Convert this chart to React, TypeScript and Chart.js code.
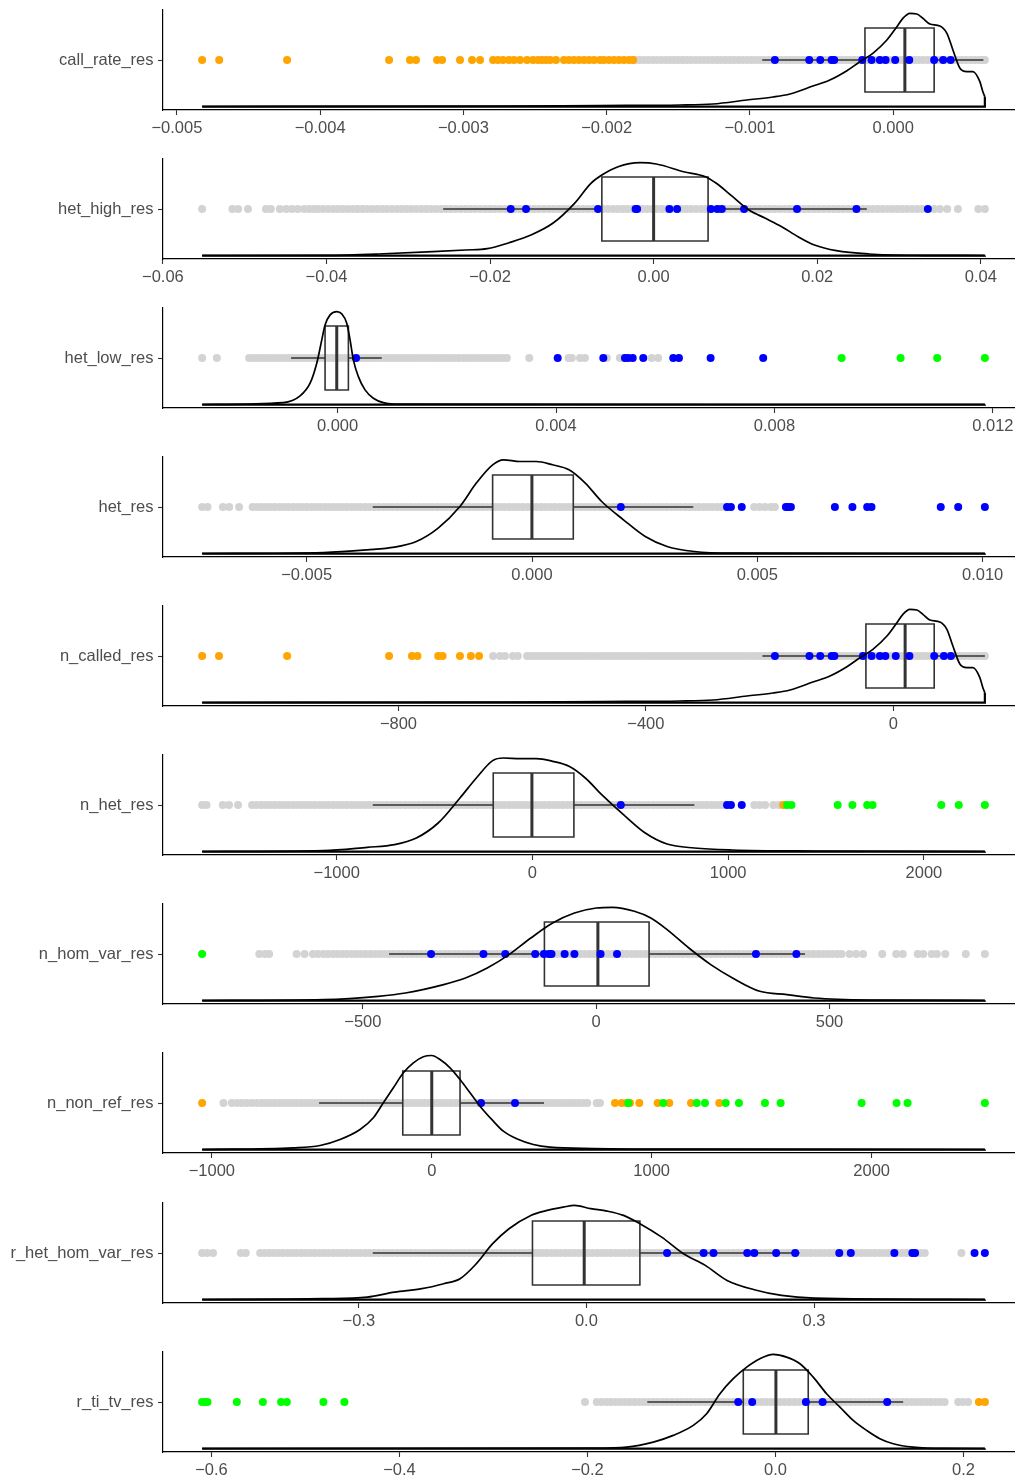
import React, { useEffect, useRef } from "react";
import { Chart, registerables } from "chart.js";

Chart.register(...registerables);

// ---------------- call_rate_res ----------------
const callRateTicks = [-0.005, -0.004, -0.003, -0.002, -0.001, 0];
const callRateTickLabels = ["\u22120.005", "\u22120.004", "\u22120.003", "\u22120.002", "\u22120.001", "0.000"];
const callRateOrange = [-0.004824, -0.004705, -0.004231, -0.003519, -0.003373, -0.003331, -0.003184, -0.003149, -0.003024, -0.00294, -0.002884, -0.002793, -0.002759, -0.002724, -0.002682, -0.002647, -0.002605, -0.002556, -0.002514, -0.002479, -0.002451, -0.002423, -0.002395, -0.002354, -0.002298, -0.002263, -0.002228, -0.002193, -0.002158, -0.002123, -0.002088, -0.002047, -0.002019, -0.001984, -0.001949, -0.001914, -0.001879, -0.001844, -0.001816];
const callRateBlue = [-0.000826, -0.000586, -0.000509, -0.00043, -0.000412, -0.000216, -0.000151, -0.000093, -0.000053, 0.000014, 0.000112, 0.000286, 0.000349, 0.000401];
const callRateGreen: number[] = [];
const callRateGray = [-0.0018, -0.00177, -0.00174, -0.00171, -0.00168, -0.00165, -0.00162, -0.00159, -0.00156, -0.00153, -0.0015, -0.00147, -0.00144, -0.00141, -0.00138, -0.00135, -0.00132, -0.00129, -0.00126, -0.00123, -0.0012, -0.00117, -0.00114, -0.00111, -0.00108, -0.00105, -0.00102, -0.00099, -0.00096, -0.00093, -0.0009, -0.00087, -0.00084, -0.00081, -0.00078, -0.00075, -0.00072, -0.00069, -0.00066, -0.00063, -0.0006, -0.00057, -0.00054, -0.00051, -0.00048, -0.00045, -0.00042, -0.00039, -0.00036, -0.00033, -0.0003, -0.00027, -0.00024, -0.00021, -0.00018, -0.00015, -0.00012, -0.00009, -0.00006, -0.00003, 0, 0.00003, 0.00006, 0.00009, 0.00012, 0.00015, 0.00018, 0.00021, 0.00024, 0.00027, 0.0003, 0.00033, 0.00036, 0.00039, 0.00042, 0.00045, 0.00048, 0.00051, 0.00054, 0.00057, 0.0006, 0.00062, 0.00064];
const callRateBox = [-0.000914, -0.000197, 0.0000816, 0.000286, 0.00063];
const callRateDensX = [-0.004824, -0.002745, -0.002047, -0.001488, -0.001258, -0.001021, -0.000839, -0.000721, -0.00056, -0.000442, -0.000323, -0.000232, -0.000142, -0.000044, 0.0000258, 0.0000677, 0.000117, 0.000165, 0.000207, 0.000256, 0.000326, 0.000375, 0.000417, 0.000465, 0.000514, 0.000556, 0.000605, 0.000626, 0.00064];
const callRateDensY = [3.5, 3.8, 4.5, 5, 6, 10, 13, 16, 24, 30, 39.3, 48.3, 56.7, 70, 83.3, 91.7, 96.7, 96, 91.7, 86, 84, 76.7, 60, 42, 38.3, 38.3, 28.3, 18.3, 13.3];

// ---------------- het_high_res ----------------
const hetHighTicks = [-0.06, -0.04, -0.02, 0, 0.02, 0.04];
const hetHighTickLabels = ["\u22120.06", "\u22120.04", "\u22120.02", "0.00", "0.02", "0.04"];
const hetHighOrange: number[] = [];
const hetHighBlue = [-0.01747, -0.0156, -0.0068, -0.0022, -0.00202, 0.00193, 0.00287, 0.00699, 0.0078, 0.00834, 0.01106, 0.01753, 0.0248, 0.03353];
const hetHighGreen: number[] = [];
const hetHighGray = [-0.0552, -0.0515, -0.0508, -0.0496, -0.0474, -0.0468, -0.0457, -0.0449, -0.0442, -0.0435, -0.0427, -0.0421, -0.0415,
  -0.041, -0.0404, -0.0398, -0.0392, -0.0386, -0.038, -0.0374, -0.0368, -0.0362, -0.0356, -0.035, -0.0344, -0.0338, -0.0332, -0.0326, -0.032, -0.0314, -0.0308, -0.0302, -0.0296, -0.029, -0.0284, -0.0278, -0.0272, -0.0266, -0.026, -0.0254, -0.0248, -0.0242, -0.0236, -0.023, -0.0224, -0.0218, -0.0212, -0.0206, -0.02, -0.0194, -0.0188, -0.0182, -0.0176, -0.017, -0.0164, -0.0158, -0.0152, -0.0146, -0.014, -0.0134, -0.0128, -0.0122, -0.0116, -0.011, -0.0104, -0.0098, -0.0092, -0.0086, -0.008, -0.0074, -0.0068, -0.0062, -0.0056, -0.005, -0.0044, -0.0038, -0.0032, -0.0026, -0.002, -0.0014, -0.0008, -0.0002, 0.0004, 0.001, 0.0016, 0.0022, 0.0028, 0.0034, 0.004, 0.0046, 0.0052, 0.0058, 0.0064, 0.007, 0.0076, 0.0082, 0.0088, 0.0094, 0.01, 0.0106, 0.0112, 0.0118, 0.0124, 0.013, 0.0136, 0.0142, 0.0148, 0.0154, 0.016, 0.0166, 0.0172, 0.0178, 0.0184, 0.019, 0.0196, 0.0202, 0.0208, 0.0214, 0.022, 0.0226, 0.0232, 0.0238, 0.0244, 0.025, 0.0256, 0.0262, 0.0268, 0.0274, 0.028, 0.0286, 0.0292, 0.0298, 0.0304, 0.031, 0.0316, 0.0322, 0.0328,
  0.0343, 0.035, 0.0359, 0.0372, 0.0397, 0.0405];
const hetHighBox = [-0.02573, -0.00633, 0, 0.00666, 0.02606];
const hetHighDensX = [-0.0552, -0.04033, -0.03367, -0.02699, -0.023, -0.02033, -0.01767, -0.015, -0.01233, -0.00967, -0.00767, -0.00633, -0.00434, -0.00166, 0.00033, 0.00367, 0.00633, 0.00767, 0.00967, 0.01166, 0.01367, 0.01566, 0.01767, 0.01967, 0.02234, 0.02633, 0.033, 0.0405];
const hetHighDensY = [3.5, 3.7, 5, 7.3, 9, 10.3, 16.3, 24, 35.7, 55.7, 75.7, 84, 92.3, 96.3, 95, 87.3, 82.3, 75.7, 62.3, 49, 40.7, 32.3, 22.3, 14, 8.3, 5, 3.7, 3.5];

// ---------------- het_low_res ----------------
const hetLowTicks = [0, 0.004, 0.008, 0.012];
const hetLowTickLabels = ["0.000", "0.004", "0.008", "0.012"];
const hetLowOrange: number[] = [];
const hetLowBlue = [0.000339, 0.004031, 0.004866, 0.005263, 0.005323, 0.005404, 0.005598, 0.006147, 0.006251, 0.006831, 0.007794];
const hetLowGreen = [0.00923, 0.01031, 0.01098, 0.011853];
const hetLowGray = [-0.00248, -0.00221,
  -0.00162, -0.00154, -0.00146, -0.00138, -0.0013, -0.00122, -0.00114, -0.00106, -0.00098, -0.0009, -0.00082, -0.00074, -0.00066, -0.00058, -0.0005, -0.00042, -0.00034, -0.00026, -0.00018, -0.0001, -0.00002, 0.00006, 0.00014, 0.00022, 0.0003, 0.00038, 0.00046, 0.00054, 0.00062, 0.0007, 0.00078, 0.00086, 0.00094, 0.00102, 0.0011, 0.00118, 0.00126, 0.00134, 0.00142, 0.0015, 0.00158, 0.00166, 0.00174, 0.00182, 0.0019, 0.00198, 0.00206, 0.00214, 0.00222, 0.0023, 0.00238, 0.00246, 0.00254, 0.00262, 0.0027, 0.00278, 0.00286, 0.00294, 0.00302, 0.0031,
  0.00351, 0.00423, 0.00429, 0.00444, 0.00453, 0.00493, 0.00517, 0.00523, 0.00575, 0.00587];
const hetLowBox = [-0.000851, -0.000229, -0.000015, 0.000198, 0.000809];
const hetLowDensX = [-0.00248, -0.000992, -0.000686, -0.000503, -0.000381, -0.000289, -0.000229, -0.000137, -0.000015, 0.000077, 0.000168, 0.000229, 0.000289, 0.000381, 0.000503, 0.000655, 0.000838, 0.001144, 0.011853];
const hetLowDensY = [3.5, 5.4, 12.1, 24.8, 44.8, 68.1, 83.1, 93.1, 96.4, 94.1, 84.8, 68.1, 48.1, 31.4, 18.1, 9.8, 5.4, 3.8, 3.5];

// ---------------- het_res ----------------
const hetTicks = [-0.005, 0, 0.005, 0.01];
const hetTickLabels = ["\u22120.005", "0.000", "0.005", "0.010"];
const hetOrange: number[] = [];
const hetBlue = [0.00197, 0.004328, 0.004414, 0.004654, 0.005634, 0.005679, 0.005745, 0.006721, 0.00711, 0.007438, 0.007533, 0.00907, 0.009457, 0.010049];
const hetGreen: number[] = [];
const hetGray = [-0.00732, -0.0072, -0.00686, -0.00672, -0.0065,
  -0.0062, -0.0061, -0.006, -0.0059, -0.0058, -0.0057, -0.0056, -0.0055, -0.0054, -0.0053, -0.0052, -0.0051, -0.005, -0.0049, -0.0048, -0.0047, -0.0046, -0.0045, -0.0044, -0.0043, -0.0042, -0.0041, -0.004, -0.0039, -0.0038, -0.0037, -0.0036, -0.0035, -0.0034, -0.0033, -0.0032, -0.0031, -0.003, -0.0029, -0.0028, -0.0027, -0.0026, -0.0025, -0.0024, -0.0023, -0.0022, -0.0021, -0.002, -0.0019, -0.0018, -0.0017, -0.0016, -0.0015, -0.0014, -0.0013, -0.0012, -0.0011, -0.001, -0.0009, -0.0008, -0.0007, -0.0006, -0.0005, -0.0004, -0.0003, -0.0002, -0.0001, 0, 0.0001, 0.0002, 0.0003, 0.0004, 0.0005, 0.0006, 0.0007, 0.0008, 0.0009, 0.001, 0.0011, 0.0012, 0.0013, 0.0014, 0.0015, 0.0016, 0.0017, 0.0018, 0.0019, 0.002, 0.0021, 0.0022, 0.0023, 0.0024, 0.0025, 0.0026, 0.0027, 0.0028, 0.0029, 0.003, 0.0031, 0.0032, 0.0033, 0.0034, 0.0035, 0.0036, 0.0037, 0.0038, 0.0039, 0.004, 0.0041, 0.0042, 0.0043,
  0.00493, 0.00505, 0.00517, 0.0053, 0.00539];
const hetBox = [-0.003534, -0.000874, -0.000002, 0.000916, 0.003578];
const hetDensX = [-0.00732, -0.004623, -0.003656, -0.00305, -0.002567, -0.002083, -0.001599, -0.001236, -0.000874, -0.000632, -0.000268, 0.000095, 0.000457, 0.000821, 0.001182, 0.001546, 0.00203, 0.002513, 0.002997, 0.003602, 0.00445, 0.010049];
const hetDensY = [3.5, 4.5, 7.2, 9.9, 15.5, 28.9, 50.5, 73.9, 92.2, 97.2, 95.5, 95.5, 92.2, 87.2, 73.9, 55.5, 37.2, 20.5, 10.5, 5.5, 3.9, 3.5];

// ---------------- n_called_res ----------------
const nCalledTicks = [-800, -400, 0];
const nCalledTickLabels = ["\u2212800", "\u2212400", "0"];
const nCalledOrange = [-1117.4, -1090.1, -980, -815.2, -778.2, -769.3, -735.8, -728.7, -700.6, -683, -669.7];
const nCalledBlue = [-191.4, -135.6, -118.1, -99.7, -95.2, -49.1, -35.1, -21.7, -12.8, 3.9, 26, 66.1, 81.8, 93.1];
const nCalledGreen: number[] = [];
const nCalledGray = [-647, -636, -628, -615, -607,
  -592, -585, -578, -571, -564, -557, -550, -543, -536, -529, -522, -515, -508, -501, -494, -487, -480, -473, -466, -459, -452, -445, -438, -431, -424, -417, -410, -403, -396, -389, -382, -375, -368, -361, -354, -347, -340, -333, -326, -319, -312, -305, -298, -291, -284, -277, -270, -263, -256, -249, -242, -235, -228, -221, -214, -207, -200, -193, -186, -179, -172, -165, -158, -151, -144, -137, -130, -123, -116, -109, -102, -95, -88, -81, -74, -67, -60, -53, -46, -39, -32, -25, -18, -11, -4, 3, 10, 17, 24, 31, 38, 45, 52, 59, 66, 73, 80, 87, 94, 101, 108, 115, 122, 129, 136, 143, 148];
const nCalledBox = [-211.6, -44.3, 19.1, 66.1, 148];
const nCalledDensX = [-1117.4, -635.7, -474.1, -344.9, -291.5, -236.6, -194.6, -167.1, -129.9, -102.5, -75, -54, -33, -10.3, 5.8, 15.5, 26.8, 38.1, 47.8, 59.1, 75.3, 86.6, 96.3, 107.6, 118.9, 128.6, 139.9, 144.8, 148];
const nCalledDensY = [3.5, 3.8, 4.5, 5, 6, 10, 13, 16, 24, 30, 39.3, 48.3, 56.7, 70, 83.3, 91.7, 96.7, 96, 91.7, 86, 84, 76.7, 60, 42, 38.3, 38.3, 28.3, 18.3, 13.3];

// ---------------- n_het_res ----------------
const nHetTicks = [-1000, 0, 1000, 2000];
const nHetTickLabels = ["\u22121000", "0", "1000", "2000"];
const nHetOrange = [1281.4];
const nHetBlue = [451.5, 994.3, 1014.3, 1069.4];
const nHetGreen = [1300.8, 1323.3, 1559.7, 1634.8, 1710.4, 1737.9, 2088.8, 2178.1, 2311.5];
const nHetGray = [-1687.4, -1665, -1582, -1550, -1504,
  -1432, -1409, -1386, -1363, -1340, -1317, -1294, -1271, -1248, -1225, -1202, -1179, -1156, -1133, -1110, -1087, -1064, -1041, -1018, -995, -972, -949, -926, -903, -880, -857, -834, -811, -788, -765, -742, -719, -696, -673, -650, -627, -604, -581, -558, -535, -512, -489, -466, -443, -420, -397, -374, -351, -328, -305, -282, -259, -236, -213, -190, -167, -144, -121, -98, -75, -52, -29, -6, 17, 40, 63, 86, 109, 132, 155, 178, 201, 224, 247, 270, 293, 316, 339, 362, 385, 408, 431, 454, 477, 500, 523, 546, 569, 592, 615, 638, 661, 684, 707, 730, 753, 776, 799, 822, 845, 868, 891, 914, 937, 960, 978,
  1134, 1161, 1189, 1231, 1259];
const nHetBox = [-815.6, -200.2, -2.6, 211.9, 827.3];
const nHetDensX = [-1687.4, -1066.3, -843.7, -704.3, -592.9, -481.6, -370.3, -286.5, -203.3, -147.6, -63.8, 19.9, 103.2, 186.9, 270.2, 353.9, 465.2, 576.6, 687.9, 827.3, 1022.4, 1440.2, 2311.5];
const nHetDensY = [3.5, 4.35, 7.7, 10.35, 17, 32, 57, 77, 94.4, 97, 96.4, 96.4, 93.7, 88.7, 77, 60.4, 40.4, 22, 11, 7, 5, 4, 3.5];

// ---------------- n_hom_var_res ----------------
const nHomVarTicks = [-500, 0, 500];
const nHomVarTickLabels = ["\u2212500", "0", "500"];
const nHomVarOrange: number[] = [];
const nHomVarBlue = [-353.9, -241.6, -194.9, -130.7, -112, -101.5, -95.8, -67.7, -46.7, 9.4, 44.6, 342.3, 428.9];
const nHomVarGreen = [-844.5];
const nHomVarGray = [-722, -710, -701, -642, -625, -607, -596,
  -584, -574, -564, -554, -544, -534, -524, -514, -504, -494, -484, -474, -464, -454, -444, -434, -424, -414, -404, -394, -384, -374, -364, -354, -344, -334, -324, -314, -304, -294, -284, -274, -264, -254, -244, -234, -224, -214, -204, -194, -184, -174, -164, -154, -144, -134, -124, -114, -104, -94, -84, -74, -64, -54, -44, -34, -24, -14, -4, 6, 16, 26, 36, 46, 56, 66, 76, 86, 96, 106, 116, 126, 136, 146, 156, 166, 176, 186, 196, 206, 216, 226, 236, 246, 256, 266, 276, 286, 296, 306, 316, 326, 336, 346, 356, 366, 376, 386, 396, 406, 416, 426, 436, 446, 456, 466, 476, 486, 496, 506, 516, 526,
  543, 557, 572, 613, 643, 657, 689, 701, 719, 730, 748, 792, 832.9];
const nHomVarBox = [-443.9, -111, 3.6, 113.3, 447.5];
const nHomVarDensX = [-844.5, -584, -467.2, -408.7, -326.9, -280.2, -233.5, -186.8, -140.1, -93.4, -46.7, 0, 35.1, 81.8, 117, 151.9, 198.6, 245.5, 292.2, 350.5, 408.9, 467.4, 584.2, 832.9];
const nHomVarDensY = [3.5, 4.4, 7.7, 11, 19.4, 26, 36, 49.4, 66, 81, 91, 96, 96.7, 92.7, 86, 74.4, 56, 39.4, 26, 12.7, 9.4, 6, 4, 3.5];

// ---------------- n_non_ref_res ----------------
const nNonRefTicks = [-1000, 0, 1000, 2000];
const nNonRefTickLabels = ["\u22121000", "0", "1000", "2000"];
const nNonRefOrange = [-1044, 833.2, 863.6, 886.4, 901.4, 943.6, 1027.3, 1080, 1178.6, 1307.2];
const nNonRefBlue = [224.1, 378.6];
const nNonRefGreen = [893.6, 1052.6, 1204.5, 1242.2, 1336.3, 1396.7, 1514.9, 1586.2, 1954.4, 2113.4, 2163.4, 2514.8];
const nNonRefGray = [-947, -909, -886, -864, -841, -818, -795, -773,
  -753, -733, -713, -693, -673, -653, -633, -613, -593, -573, -553, -533, -513, -493, -473, -453, -433, -413, -393, -373, -353, -333, -313, -293, -273, -253, -233, -213, -193, -173, -153, -133, -113, -93, -73, -53, -33, -13, 7, 27, 47, 67, 87, 107, 127, 147, 167, 187, 207, 227, 247, 267, 287, 307, 327, 347, 367, 387, 407, 427, 447, 467, 487, 507, 527, 547, 567, 587, 607, 627, 647, 667, 687, 707,
  750, 765];
const nNonRefBox = [-512.2, -131.8, 0, 128.6, 510.4];
const nNonRefDensX = [-1044, -629, -507.7, -416.8, -325.9, -265.4, -220, -174.5, -129.1, -83.6, -38.2, 0, 37.7, 83.2, 128.6, 174.1, 219.5, 280, 325.4, 386.3, 461.8, 537.7, 734.5, 1219.4, 2514.8];
const nNonRefDensY = [3.5, 5.2, 7.5, 13.5, 23.5, 35.2, 50.2, 65.2, 80.2, 90.2, 96.3, 97.5, 93.5, 85.2, 73.5, 60.2, 46.8, 31.8, 21.8, 14.2, 8.5, 5.8, 4.5, 3.8, 3.5];

// ---------------- r_het_hom_var_res ----------------
const rHetHomTicks = [-0.3, 0, 0.3];
const rHetHomTickLabels = ["\u22120.3", "0.0", "0.3"];
const rHetHomOrange: number[] = [];
const rHetHomBlue = [0.1063, 0.1545, 0.1675, 0.212, 0.2213, 0.2501, 0.2752, 0.3333, 0.3485, 0.4059, 0.4296, 0.4332, 0.5116, 0.5252];
const rHetHomGreen: number[] = [];
const rHetHomGray = [-0.5065, -0.4999, -0.4921, -0.4555, -0.449,
  -0.43, -0.424, -0.418, -0.412, -0.406, -0.4, -0.394, -0.388, -0.382, -0.376, -0.37, -0.364, -0.358, -0.352, -0.346, -0.34, -0.334, -0.328, -0.322, -0.316, -0.31, -0.304, -0.298, -0.292, -0.286, -0.28, -0.274, -0.268, -0.262, -0.256, -0.25, -0.244, -0.238, -0.232, -0.226, -0.22, -0.214, -0.208, -0.202, -0.196, -0.19, -0.184, -0.178, -0.172, -0.166, -0.16, -0.154, -0.148, -0.142, -0.136, -0.13, -0.124, -0.118, -0.112, -0.106, -0.1, -0.094, -0.088, -0.082, -0.076, -0.07, -0.064, -0.058, -0.052, -0.046, -0.04, -0.034, -0.028, -0.022, -0.016, -0.01, -0.004, 0.002, 0.008, 0.014, 0.02, 0.026, 0.032, 0.038, 0.044, 0.05, 0.056, 0.062, 0.068, 0.074, 0.08, 0.086, 0.092, 0.098, 0.104, 0.11, 0.116, 0.122, 0.128, 0.134, 0.14, 0.146, 0.152, 0.158, 0.164, 0.17, 0.176, 0.182, 0.188, 0.194, 0.2, 0.206, 0.212, 0.218, 0.224, 0.23, 0.236, 0.242, 0.248, 0.254, 0.26, 0.266, 0.272, 0.278, 0.284, 0.29, 0.296, 0.302, 0.308, 0.314, 0.32, 0.326, 0.332, 0.338, 0.344, 0.35, 0.356, 0.362, 0.368, 0.374, 0.38, 0.386, 0.392, 0.398, 0.404, 0.41, 0.416, 0.422, 0.428, 0.434, 0.44, 0.446,
  0.4943];
const rHetHomBox = [-0.2816, -0.0711, -0.0029, 0.0705, 0.281];
const rHetHomDensX = [-0.5065, -0.3462, -0.2888, -0.2528, -0.217, -0.1881, -0.1665, -0.1451, -0.1236, -0.102, -0.0733, -0.0516, -0.0302, -0.0158, 0.0058, 0.0273, 0.0489, 0.0705, 0.0992, 0.1279, 0.1567, 0.1854, 0.2213, 0.2572, 0.3004, 0.5252];
const rHetHomDensY = [3.5, 4.3, 5.9, 10.9, 14.3, 19.3, 24.3, 39.3, 59.3, 74.3, 87.6, 92.6, 95.9, 97.6, 94.3, 91.9, 87.6, 79.3, 65.9, 49.3, 37.6, 22.6, 13.3, 7.6, 4.9, 3.5];

// ---------------- r_ti_tv_res ----------------
const rTiTvTicks = [-0.6, -0.4, -0.2, 0, 0.2];
const rTiTvTickLabels = ["\u22120.6", "\u22120.4", "\u22120.2", "0.0", "0.2"];
const rTiTvOrange = [0.2164, 0.2228];
const rTiTvBlue = [-0.0396, -0.0247, 0.0324, 0.0502, 0.1189];
const rTiTvGreen = [-0.6099, -0.6067, -0.6042, -0.573, -0.5453, -0.5259, -0.5198, -0.4809, -0.4585];
const rTiTvGray = [-0.2026, -0.1901, -0.1848, -0.1795,
  -0.175, -0.17, -0.165, -0.16, -0.155, -0.15, -0.145, -0.14, -0.135, -0.13, -0.125, -0.12, -0.115, -0.11, -0.105, -0.1, -0.095, -0.09, -0.085, -0.08, -0.075, -0.07, -0.065, -0.06, -0.055, -0.05, -0.045, -0.04, -0.035, -0.03, -0.025, -0.02, -0.015, -0.01, -0.005, 0, 0.005, 0.01, 0.015, 0.02, 0.025, 0.03, 0.035, 0.04, 0.045, 0.05, 0.055, 0.06, 0.065, 0.07, 0.075, 0.08, 0.085, 0.09, 0.095, 0.1, 0.105, 0.11, 0.115, 0.12, 0.125, 0.13, 0.135, 0.14, 0.145, 0.15, 0.155, 0.16, 0.165, 0.17, 0.175, 0.18,
  0.1944, 0.1997, 0.205];
const rTiTvBox = [-0.1363, -0.0342, 0.0005, 0.0349, 0.1359];
const rTiTvDensX = [-0.6099, -0.1938, -0.1582, -0.1299, -0.1087, -0.0874, -0.0732, -0.059, -0.0449, -0.0306, -0.0165, -0.0023, 0.0119, 0.0261, 0.0402, 0.0544, 0.0686, 0.0827, 0.097, 0.1111, 0.1253, 0.1465, 0.1784, 0.2228];
const rTiTvDensY = [3.5, 3.9, 4.9, 9.9, 16.6, 26.6, 38.3, 58.3, 73.3, 84.9, 93.3, 97.6, 94.9, 88.3, 74.9, 58.3, 44.9, 31.6, 21.6, 13.3, 8.3, 4.9, 3.6, 3.5];

type Panel = {
  name: string;
  ticks: number[];
  tickLabels: string[];
  gray: number[];
  blue: number[];
  orange: number[];
  green: number[];
  box: number[]; // whisker low, q1, median, q3, whisker high
  densX: number[];
  densY: number[];
};

const PANELS: Panel[] = [
  { name: "call_rate_res", ticks: callRateTicks, tickLabels: callRateTickLabels, gray: callRateGray, blue: callRateBlue, orange: callRateOrange, green: callRateGreen, box: callRateBox, densX: callRateDensX, densY: callRateDensY },
  { name: "het_high_res", ticks: hetHighTicks, tickLabels: hetHighTickLabels, gray: hetHighGray, blue: hetHighBlue, orange: hetHighOrange, green: hetHighGreen, box: hetHighBox, densX: hetHighDensX, densY: hetHighDensY },
  { name: "het_low_res", ticks: hetLowTicks, tickLabels: hetLowTickLabels, gray: hetLowGray, blue: hetLowBlue, orange: hetLowOrange, green: hetLowGreen, box: hetLowBox, densX: hetLowDensX, densY: hetLowDensY },
  { name: "het_res", ticks: hetTicks, tickLabels: hetTickLabels, gray: hetGray, blue: hetBlue, orange: hetOrange, green: hetGreen, box: hetBox, densX: hetDensX, densY: hetDensY },
  { name: "n_called_res", ticks: nCalledTicks, tickLabels: nCalledTickLabels, gray: nCalledGray, blue: nCalledBlue, orange: nCalledOrange, green: nCalledGreen, box: nCalledBox, densX: nCalledDensX, densY: nCalledDensY },
  { name: "n_het_res", ticks: nHetTicks, tickLabels: nHetTickLabels, gray: nHetGray, blue: nHetBlue, orange: nHetOrange, green: nHetGreen, box: nHetBox, densX: nHetDensX, densY: nHetDensY },
  { name: "n_hom_var_res", ticks: nHomVarTicks, tickLabels: nHomVarTickLabels, gray: nHomVarGray, blue: nHomVarBlue, orange: nHomVarOrange, green: nHomVarGreen, box: nHomVarBox, densX: nHomVarDensX, densY: nHomVarDensY },
  { name: "n_non_ref_res", ticks: nNonRefTicks, tickLabels: nNonRefTickLabels, gray: nNonRefGray, blue: nNonRefBlue, orange: nNonRefOrange, green: nNonRefGreen, box: nNonRefBox, densX: nNonRefDensX, densY: nNonRefDensY },
  { name: "r_het_hom_var_res", ticks: rHetHomTicks, tickLabels: rHetHomTickLabels, gray: rHetHomGray, blue: rHetHomBlue, orange: rHetHomOrange, green: rHetHomGreen, box: rHetHomBox, densX: rHetHomDensX, densY: rHetHomDensY },
  { name: "r_ti_tv_res", ticks: rTiTvTicks, tickLabels: rTiTvTickLabels, gray: rTiTvGray, blue: rTiTvBlue, orange: rTiTvOrange, green: rTiTvGreen, box: rTiTvBox, densX: rTiTvDensX, densY: rTiTvDensY },
];

// layout / style constants
const FONT = "'Liberation Sans', Arial, Helvetica, sans-serif";
const FONT_SIZE = 16.5;
const ROW = 50;
const BOX_LO = 18;
const BOX_HI = 82;
const BASE = 3.3;
const PT_R = 4;
const CANVAS_W = 1024;
const CANVAS_H = 149;
const PANEL_TOPS = [0, 149, 298, 447, 596, 745, 894, 1043, 1193, 1342];
const COLORS = { gray: "#d3d3d3", blue: "#0000ff", orange: "#ffa500", green: "#00ff00", box: "#333333", text: "#4d4d4d" };

function buildChart(canvas: HTMLCanvasElement, p: Panel) {
  const all = [...p.gray, ...p.blue, ...p.orange, ...p.green];
  const lo = Math.min(...all);
  const hi = Math.max(...all);
  const pad = (hi - lo) * 0.05;
  const [wlo, q1, med, q3, whi] = p.box;

  const lineDs = (data: any[], width: number, color: string, order: number, extra: any = {}) => ({
    type: "line",
    data,
    borderColor: color,
    borderWidth: width,
    pointRadius: 0,
    pointHoverRadius: 0,
    fill: false,
    tension: 0,
    borderJoinStyle: "miter",
    order,
    ...extra,
  });
  const ptDs = (arr: number[], color: string, order: number) => ({
    type: "line",
    data: arr.map((x) => ({ x, y: ROW })),
    showLine: false,
    pointRadius: PT_R,
    pointHoverRadius: PT_R,
    pointBackgroundColor: color,
    pointBorderWidth: 0,
    borderColor: color,
    backgroundColor: color,
    order,
  });

  const dens = p.densX.map((x, i) => ({ x, y: p.densY[i] }));
  const n = p.densX.length;

  const datasets: any[] = [
    lineDs(dens, 1.7, "#000000", 0, { cubicInterpolationMode: "monotone" }),
    lineDs(
      [
        { x: p.densX[n - 1], y: p.densY[n - 1] },
        { x: p.densX[n - 1], y: BASE },
        { x: p.densX[0], y: BASE },
      ],
      2.2,
      "#000000",
      0
    ),
    ptDs(p.green, COLORS.green, 1),
    ptDs(p.blue, COLORS.blue, 2),
    ptDs(p.orange, COLORS.orange, 3),
    lineDs(
      [
        { x: q1, y: BOX_LO },
        { x: q3, y: BOX_LO },
        { x: q3, y: BOX_HI },
        { x: q1, y: BOX_HI },
        { x: q1, y: BOX_LO },
      ],
      1.6,
      COLORS.box,
      4,
      { borderCapStyle: "square" }
    ),
    lineDs([{ x: med, y: BOX_LO }, { x: med, y: BOX_HI }], 3, COLORS.box, 4),
    lineDs([{ x: wlo, y: ROW }, { x: q1, y: ROW }], 1.6, COLORS.box, 4),
    lineDs([{ x: q3, y: ROW }, { x: whi, y: ROW }], 1.6, COLORS.box, 4),
    ptDs(p.gray, COLORS.gray, 5),
  ];

  const font = { family: FONT, size: FONT_SIZE };

  return new Chart(canvas, {
    type: "line",
    data: { datasets },
    options: {
      animation: false,
      responsive: false,
      maintainAspectRatio: false,
      devicePixelRatio: 1,
      events: [],
      layout: { autoPadding: false, padding: { top: 10, left: 0, right: 0, bottom: 0 } },
      plugins: { legend: { display: false }, tooltip: { enabled: false } },
      scales: {
        x: {
          type: "linear",
          min: lo - pad,
          max: hi + pad,
          afterBuildTicks: (axis: any) => {
            axis.ticks = p.ticks.map((v) => ({ value: v }));
          },
          afterFit: (axis: any) => {
            axis.height = 39;
            axis.paddingLeft = 0;
            axis.paddingRight = 0;
          },
          ticks: {
            autoSkip: false,
            maxRotation: 0,
            minRotation: 0,
            padding: 4,
            color: COLORS.text,
            font,
            callback: (v: any) => {
              const i = p.ticks.indexOf(Number(v));
              return i >= 0 ? p.tickLabels[i] : "";
            },
          },
          grid: { display: true, drawOnChartArea: false, drawTicks: true, tickLength: 5, tickColor: "#333333", tickWidth: 1.1 },
          border: { display: true, color: "#000000", width: 1.2 },
        },
        y: {
          type: "linear",
          min: 0,
          max: 100,
          afterBuildTicks: (axis: any) => {
            axis.ticks = [{ value: ROW }];
          },
          afterFit: (axis: any) => {
            axis.width = 163;
            axis.paddingTop = 0;
            axis.paddingBottom = 0;
          },
          ticks: {
            padding: 4.5,
            color: COLORS.text,
            font,
            callback: () => p.name,
          },
          grid: { display: true, drawOnChartArea: false, drawTicks: true, tickLength: 5, tickColor: "#333333", tickWidth: 1.1 },
          border: { display: true, color: "#000000", width: 1.2 },
        },
      },
    } as any,
  } as any);
}

function PanelChart({ panel, top }: { panel: Panel; top: number }) {
  const ref = useRef<HTMLCanvasElement | null>(null);
  useEffect(() => {
    if (!ref.current) return;
    const chart = buildChart(ref.current, panel);
    return () => chart.destroy();
  }, [panel]);
  return (
    <canvas
      ref={ref}
      width={CANVAS_W}
      height={CANVAS_H}
      style={{ position: "absolute", left: 0, top, width: CANVAS_W, height: CANVAS_H, display: "block" }}
    />
  );
}

export default function App() {
  return (
    <div
      style={{
        position: "absolute",
        left: 0,
        top: 0,
        width: 1015,
        height: 1479,
        overflow: "hidden",
        background: "#ffffff",
      }}
    >
      {PANELS.map((p, i) => (
        <PanelChart key={p.name} panel={p} top={PANEL_TOPS[i]} />
      ))}
    </div>
  );
}
